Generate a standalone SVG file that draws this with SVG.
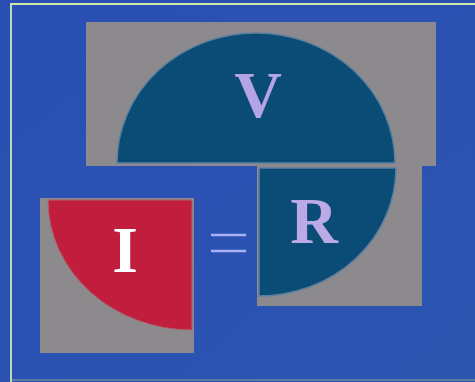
<svg xmlns="http://www.w3.org/2000/svg" width="475" height="382" viewBox="0 0 475 382">
<style>
.gray{fill:#8c8a8c;}
.teal{fill:#0b4c76;}
.lbl{font-family:"Liberation Serif","Times New Roman",serif;font-weight:bold;font-size:66px;text-anchor:middle;}
</style>
<defs>
<linearGradient id="bg" x1="0" y1="0" x2="1" y2="1">
<stop offset="0" stop-color="#2a4fb4"/>
<stop offset="1" stop-color="#2c55b0"/>
</linearGradient>
</defs>
<rect width="475" height="382" fill="url(#bg)"/>
<line x1="10" y1="4" x2="475" y2="4" stroke="#cfe9a8" stroke-width="2"/>
<line x1="11" y1="4" x2="11" y2="382" stroke="#b8dcb0" stroke-width="2"/>
<line x1="12" y1="380" x2="475" y2="380" stroke="#6a8a9a" stroke-width="1.5"/>
<g id="V">
<rect class="gray" x="86" y="22" width="350" height="144"/>
<path class="teal" d="M117,163 A139,130 0 0 1 395,163 Z" stroke="#5d7fa0" stroke-width="1.5"/>
<text class="lbl" x="258" y="117" fill="#b4a4e6">V</text>
</g>
<g id="R">
<rect class="gray" x="257" y="166" width="165" height="140"/>
<path class="teal" d="M259,168 L396,168 A137,128 0 0 1 259,296 Z" stroke="#5d7fa0" stroke-width="1.5"/>
<text class="lbl" x="314" y="243" fill="#bcaae6">R</text>
</g>
<g id="I">
<rect class="gray" x="40" y="198" width="154" height="155"/>
<path d="M192,200 L48,200 A144,130 0 0 0 192,330 Z" fill="#c01e3c" stroke="#b06070" stroke-width="1"/>
<text class="lbl" x="125" y="272" fill="#ffffff">I</text>
</g>
<g id="connectors">
<g id="equals" stroke="#a8b0f4" stroke-width="2.5">
<line x1="211" y1="235" x2="246" y2="235"/>
<line x1="211" y1="251" x2="246" y2="251"/>
</g>
</g>
</svg>
